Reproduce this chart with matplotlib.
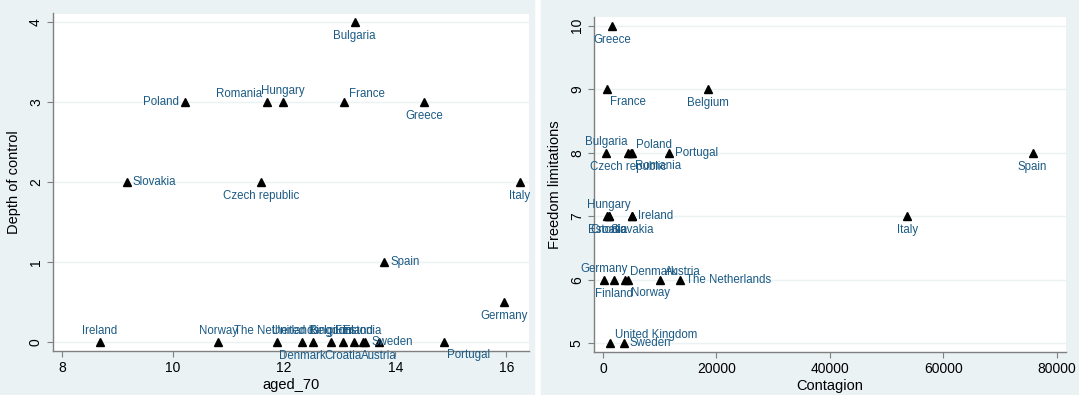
import matplotlib
matplotlib.use('Agg')
import matplotlib.pyplot as plt
from matplotlib.patches import Rectangle

# left panel: aged_70 vs depth of control
left_names = ['Bulgaria', 'Poland', 'Romania', 'Hungary', 'France', 'Greece',
              'Slovakia', 'Czech republic', 'Italy', 'Spain', 'Germany',
              'Ireland', 'Norway', 'The Netherlands', 'Denmark', 'United Kingdom',
              'Belgium', 'Croatia', 'Finland', 'Estonia', 'Sweden', 'Austria', 'Portugal']
left_aged = [13.27, 10.21, 11.69, 11.98, 13.07, 14.52,
             9.17, 11.58, 16.24, 13.80, 15.95,
             8.68, 10.81, 11.87, 12.32, 12.52,
             12.84, 13.05, 13.26, 13.41, 13.46, 13.71, 14.88]
left_depth = [4, 3, 3, 3, 3, 3,
              2, 2, 2, 1, 0.5,
              0, 0, 0, 0, 0,
              0, 0, 0, 0, 0, 0, 0]

# right panel: contagion vs freedom limitations
right_names = ['Greece', 'France', 'Belgium', 'Bulgaria', 'Czech republic', 'Poland',
               'Romania', 'Portugal', 'Spain', 'Hungary', 'Estonia', 'Croatia',
               'Slovakia', 'Ireland', 'Italy', 'Germany', 'Finland', 'Denmark',
               'Norway', 'Austria', 'The Netherlands', 'United Kingdom', 'Sweden']
right_contagion = [1640, 730, 18490, 610, 4400, 4900,
                   5150, 11700, 75760, 1030, 700, 1000,
                   5150, 5150, 53640, 120, 1880, 3940,
                   4490, 10120, 13640, 1330, 3640]
right_freedom = [10, 9, 9, 8, 8, 8,
                 8, 8, 8, 7, 7, 7,
                 7, 7, 7, 6, 6, 6,
                 6, 6, 6, 5, 5]

# stata style clock positions for the marker labels
left_clock = {'Bulgaria': 6, 'Poland': 9, 'Romania': 11, 'Hungary': 12, 'France': 1,
              'Greece': 6, 'Slovakia': 3, 'Czech republic': 6, 'Italy': 6, 'Spain': 3,
              'Germany': 6, 'Ireland': 12, 'Norway': 12, 'The Netherlands': 12,
              'Denmark': 6, 'United Kingdom': 12, 'Belgium': 12, 'Croatia': 6,
              'Finland': 12, 'Estonia': 12, 'Sweden': 3, 'Austria': 6, 'Portugal': 5}
right_clock = {'Greece': 6, 'France': 5, 'Belgium': 6, 'Bulgaria': 12, 'Czech republic': 6,
               'Poland': 1, 'Romania': 5, 'Portugal': 3, 'Spain': 6, 'Hungary': 12,
               'Estonia': 6, 'Croatia': 6, 'Slovakia': 6, 'Ireland': 3, 'Italy': 6,
               'Germany': 12, 'Finland': 6, 'Denmark': 1, 'Norway': 5, 'Austria': 1,
               'The Netherlands': 3, 'United Kingdom': 1, 'Sweden': 3}

W, H = 1079, 395
BG = '#EAF2F3'
LBL = '#1B5A85'
plt.rcParams['font.family'] = ['Liberation Sans', 'DejaVu Sans']

fig = plt.figure(figsize=(W / 100, H / 100), dpi=100)
fig.patch.set_facecolor('white')
# two graph regions side by side with a thin white gap
fig.add_artist(Rectangle((0, 0), 534 / W, 1, transform=fig.transFigure, color=BG, zorder=0))
fig.add_artist(Rectangle((541 / W, 0), (W - 541) / W, 1, transform=fig.transFigure, color=BG, zorder=0))


def px_axes(x0, x1, top, bottom):
    return fig.add_axes([x0 / W, 1 - bottom / H, (x1 - x0) / W, (bottom - top) / H])


def offset(c):
    # (dx, dy) in pixels, ha, va
    return {12: (0, 5, 'center', 'bottom'),
            6: (0, -8, 'center', 'top'),
            3: (6, 0, 'left', 'center'),
            9: (-6, 0, 'right', 'center'),
            1: (5, 2, 'left', 'bottom'),
            11: (-5, 2, 'right', 'bottom'),
            5: (3, -7, 'left', 'top')}[c]


def style(ax, xlab, ylab):
    ax.set_facecolor('white')
    for s in ['top', 'right']:
        ax.spines[s].set_visible(False)
    for s in ['left', 'bottom']:
        ax.spines[s].set_color('#808080')
        ax.spines[s].set_linewidth(1.0)
    ax.tick_params(axis='both', colors='#808080', labelcolor='black', labelsize=10, length=4)
    ax.tick_params(axis='y', labelrotation=90)
    for t in ax.get_yticklabels():
        t.set_va('center')
    ax.yaxis.grid(True, color=BG, linewidth=1.0)
    ax.set_axisbelow(True)
    ax.set_xlabel(xlab, fontsize=10.5, labelpad=2)
    ax.set_ylabel(ylab, fontsize=10.5, labelpad=6)


def draw(ax, names, xs, ys, clock):
    ax.plot(xs, ys, linestyle='none', marker='^', color='black', markersize=6, zorder=3)
    for n, x, y in zip(names, xs, ys):
        dx, dy, ha, va = offset(clock[n])
        ax.annotate(n, (x, y), xytext=(dx * 0.72, dy * 0.72), textcoords='offset points',
                    ha=ha, va=va, fontsize=8.3, color=LBL, zorder=4)


ax1 = px_axes(53.4, 528.6, 13.5, 351)
draw(ax1, left_names, left_aged, left_depth, left_clock)
ax1.set_xlim(7.845, 16.40)
ax1.set_ylim(-0.108, 4.108)
ax1.set_xticks([8, 10, 12, 14, 16])
ax1.set_yticks([0, 1, 2, 3, 4])
style(ax1, 'aged_70', 'Depth of control')

ax2 = px_axes(594.3, 1066, 17, 352)
draw(ax2, right_names, right_contagion, right_freedom, right_clock)
ax2.set_xlim(-1515, 81636)
ax2.set_ylim(4.865, 10.135)
ax2.set_xticks([0, 20000, 40000, 60000, 80000])
ax2.set_yticks([5, 6, 7, 8, 9, 10])
style(ax2, 'Contagion', 'Freedom limitations')

fig.savefig('out.png', dpi=100, facecolor=fig.get_facecolor())
